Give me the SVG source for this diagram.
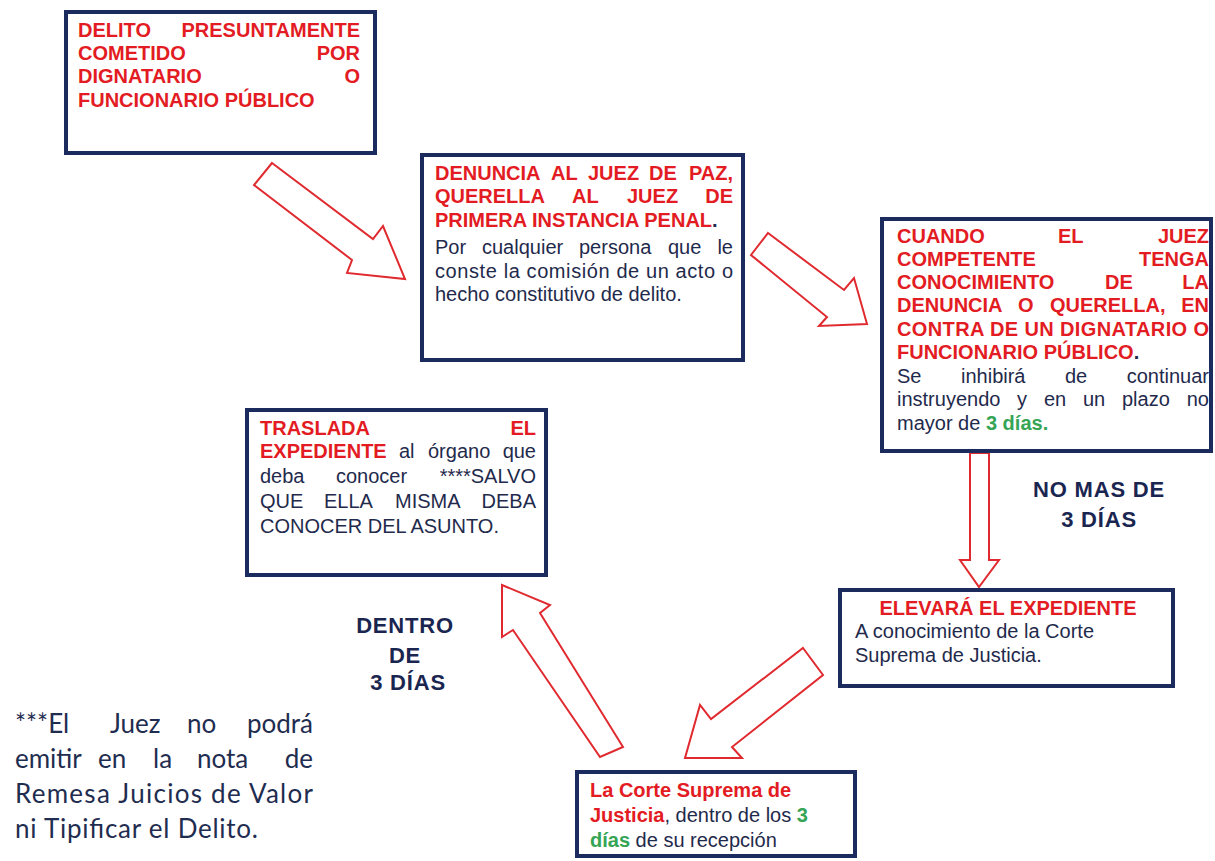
<svg xmlns="http://www.w3.org/2000/svg" width="1215" height="861" viewBox="0 0 1215 861">
<style>
.box{fill:#ffffff;stroke:#1c2b5e;stroke-width:4}
.arr{fill:#ffffff;stroke:#e02a2f;stroke-width:2;stroke-linejoin:miter}
text{font-family:"Liberation Sans",Arial,sans-serif;font-size:20px;fill:#1f2a4c}
.b{font-weight:bold}
.r{fill:#e31b23}
.g{fill:#35a555;font-weight:bold}
.lbl{font-size:22px;font-weight:bold;letter-spacing:0.8px;fill:#1a2550}
.note{font-family:Lato,"Open Sans",sans-serif;font-size:26px;fill:#1f2d50}
</style>
<rect x="0" y="0" width="1215" height="861" fill="#ffffff"/>
<g id="connectors">
<polygon class="arr" points="272,163 373,239 383,226 405,279 347,273 352,260 254,185"/>
<polygon class="arr" points="768,233 844,290 854,278 867,324 819,326 827,317 751,255"/>
<polygon class="arr" points="970,453 989,453 989,560 999,560 979,587 960,560 970,560"/>
<polygon class="arr" points="803,648 823,675 732,747 742,758 685,758 700,705 711,719"/>
<polygon class="arr" points="502,585 550,605 540,613 623,747 600,757 513,630 502,637"/>
</g>
<g id="node1">
<rect class="box" x="66" y="12" width="309" height="141"/>
<text class="b r" x="78" y="37">DELITO</text>
<text class="b r" x="360" y="37" text-anchor="end">PRESUNTAMENTE</text>
<text class="b r" x="78" y="60">COMETIDO</text>
<text class="b r" x="360" y="60" text-anchor="end">POR</text>
<text class="b r" x="78" y="83">DIGNATARIO</text>
<text class="b r" x="360" y="83" text-anchor="end">O</text>
<text class="b r" x="78" y="107">FUNCIONARIO PÚBLICO</text>
</g>
<g id="node2">
<rect class="box" x="422" y="155" width="321" height="205"/>
<text class="b r" y="180"><tspan x="435">DENUNCIA</tspan><tspan x="551">AL</tspan><tspan x="588">JUEZ</tspan><tspan x="649">DE</tspan></text>
<text class="b r" x="733" y="180" text-anchor="end">PAZ,</text>
<text class="b r" y="203"><tspan x="435">QUERELLA</tspan><tspan x="572">AL</tspan><tspan x="627">JUEZ</tspan></text>
<text class="b r" x="733" y="203" text-anchor="end">DE</text>
<text class="b r" x="435" y="227">PRIMERA INSTANCIA PENAL<tspan fill="#1f2a4c">.</tspan></text>
<text y="254"><tspan x="435">Por</tspan><tspan x="482">cualquier</tspan><tspan x="579">persona</tspan><tspan x="668">que</tspan></text>
<text x="733" y="254" text-anchor="end">le</text>
<text x="435" y="278" textLength="298" lengthAdjust="spacing">conste la comisión de un acto o</text>
<text x="435" y="301">hecho constitutivo de delito.</text>
</g>
<g id="node3">
<rect class="box" x="882" y="219" width="329" height="232"/>
<text class="b r" y="243"><tspan x="897">CUANDO</tspan><tspan x="1058">EL</tspan></text>
<text class="b r" x="1209" y="243" text-anchor="end">JUEZ</text>
<text class="b r" x="897" y="266">COMPETENTE</text>
<text class="b r" x="1209" y="266" text-anchor="end">TENGA</text>
<text class="b r" y="289"><tspan x="897">CONOCIMIENTO</tspan><tspan x="1105">DE</tspan></text>
<text class="b r" x="1209" y="289" text-anchor="end">LA</text>
<text class="b r" y="312"><tspan x="897">DENUNCIA</tspan><tspan x="1018">O</tspan><tspan x="1050">QUERELLA,</tspan></text>
<text class="b r" x="1209" y="312" text-anchor="end">EN</text>
<text class="b r" x="897" y="336" textLength="312" lengthAdjust="spacing">CONTRA DE UN DIGNATARIO O</text>
<text class="b r" x="897" y="359">FUNCIONARIO PÚBLICO<tspan fill="#1f2a4c">.</tspan></text>
<text y="383"><tspan x="897">Se</tspan><tspan x="961">inhibirá</tspan><tspan x="1065">de</tspan></text>
<text x="1209" y="383" text-anchor="end">continuar</text>
<text y="406"><tspan x="897">instruyendo</tspan><tspan x="1017">y</tspan><tspan x="1044">en</tspan><tspan x="1083">un</tspan><tspan x="1122">plazo</tspan></text>
<text x="1209" y="406" text-anchor="end">no</text>
<text x="897" y="430">mayor de <tspan class="g">3 días.</tspan></text>
</g>
<g id="label-no-mas">
<text class="lbl" x="1099" y="497" text-anchor="middle">NO MAS DE</text>
<text class="lbl g" x="1099" y="527" text-anchor="middle">3 DÍAS</text>
</g>
<g id="node4">
<rect class="box" x="247" y="410" width="299" height="165"/>
<text class="b r" x="260" y="435">TRASLADA</text>
<text class="b r" x="536" y="435" text-anchor="end">EL</text>
<text y="458"><tspan class="b r" x="260">EXPEDIENTE</tspan><tspan x="399">al</tspan><tspan x="428">órgano</tspan></text>
<text x="536" y="458" text-anchor="end">que</text>
<text y="483"><tspan x="260">deba</tspan><tspan x="336">conocer</tspan></text>
<text x="536" y="483" text-anchor="end">****SALVO</text>
<text y="508"><tspan x="260">QUE</tspan><tspan x="324">ELLA</tspan><tspan x="395">MISMA</tspan></text>
<text x="536" y="508" text-anchor="end">DEBA</text>
<text x="260" y="533">CONOCER DEL ASUNTO.</text>
</g>
<g id="node5">
<rect class="box" x="840" y="590" width="333" height="96"/>
<text class="b r" x="1008" y="615" text-anchor="middle">ELEVARÁ EL EXPEDIENTE</text>
<text x="855" y="638">A conocimiento de la Corte</text>
<text x="855" y="662">Suprema de Justicia.</text>
</g>
<g id="label-dentro">
<text class="lbl" x="405" y="633" text-anchor="middle">DENTRO</text>
<text class="lbl" x="405" y="663" text-anchor="middle">DE</text>
<text class="lbl g" x="408" y="690" text-anchor="middle">3 DÍAS</text>
</g>
<g id="node6">
<rect class="box" x="577" y="772" width="278" height="84"/>
<text class="b r" x="590" y="797">La Corte Suprema de</text>
<text x="590" y="822"><tspan class="b r">Justicia</tspan>, dentro de los <tspan class="g">3</tspan></text>
<text x="590" y="847"><tspan class="g">días</tspan> de su recepción</text>
</g>
<g id="footnote">
<text class="note" y="733"><tspan x="15">***El</tspan><tspan x="110">Juez</tspan><tspan x="187">no</tspan></text>
<text class="note" x="313" y="733" text-anchor="end">podrá</text>
<text class="note" y="768"><tspan x="15">emitir</tspan><tspan x="98">en</tspan><tspan x="153">la</tspan><tspan x="197">nota</tspan></text>
<text class="note" x="313" y="768" text-anchor="end">de</text>
<text class="note" x="15" y="803" textLength="298" lengthAdjust="spacing">Remesa Juicios de Valor</text>
<text class="note" x="15" y="838" textLength="243" lengthAdjust="spacing">ni Tipificar el Delito.</text>
</g>
</svg>
